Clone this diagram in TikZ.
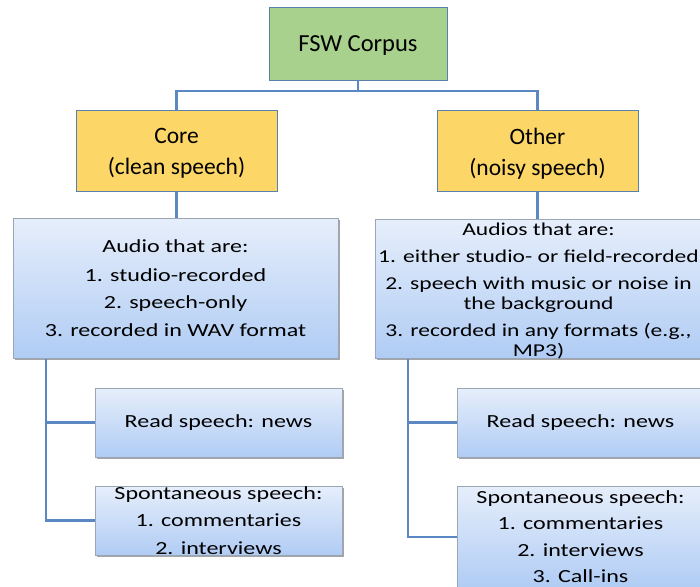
\documentclass[tikz,border=0pt]{standalone}
\usepackage{fontspec}
\setmainfont{Carlito}
\newfontfamily\bluefont{Carlito}[FakeStretch=1.3]
\usetikzlibrary{shadows}
\definecolor{conncol}{HTML}{5B88C2}
\definecolor{topborder}{HTML}{5A80AE}
\definecolor{greenfill}{HTML}{A9D18E}
\definecolor{yellowfill}{HTML}{FDD668}
\definecolor{bluetop}{HTML}{E6EEFB}
\definecolor{bluebot}{HTML}{B0CCF4}
\definecolor{blueborder}{HTML}{9AA6B4}
\newcommand{\lowr}[2]{\raisebox{-#1pt}[\height][\depth]{#2}}
\tikzset{
  topbox/.style={draw=topborder, line width=1pt, inner sep=0pt, align=center},
  bluebox/.style={draw=blueborder, line width=1pt, inner sep=0pt, align=center,
    top color=bluetop, bottom color=bluebot,
    drop shadow={shadow xshift=1.5pt, shadow yshift=-1.5pt, opacity=0.35, fill=black},
    font=\bluefont\fontsize{18.5}{20}\selectfont},
  conn/.style={draw=conncol, line width=2.5pt}
}
\begin{document}
\begin{tikzpicture}[x=1pt,y=-1pt]
\clip (0,0) rectangle (700,586);
\fill[white] (0,0) rectangle (700,586);
% top
\node[topbox, fill=greenfill, minimum width=178pt, minimum height=72pt,
  font=\fontsize{24.5}{28}\selectfont] (fsw) at (358,44) {\lowr{2}{FSW Corpus}};
\node[topbox, fill=yellowfill, minimum width=201pt, minimum height=81pt,
  font=\fontsize{23.5}{31}\selectfont] (core) at (176.5,150.5) {\lowr{3}{Core}\\\lowr{3}{(clean speech)}};
\node[topbox, fill=yellowfill, minimum width=201pt, minimum height=81pt,
  font=\fontsize{23.5}{31}\selectfont] (other) at (537.5,150.5) {\lowr{3}{Other}\\\lowr{3}{(noisy speech)}};
% audio boxes
\node[bluebox, minimum width=325pt, minimum height=140pt] (audL) at (175.5,288)
  {Audio that are:\\[9pt]1. studio-recorded\\[7pt]2. speech-only\\[8pt]3. recorded in WAV format};
\node[bluebox, minimum width=326pt, minimum height=139pt, font=\bluefont\fontsize{18.1}{20}\selectfont] (audR) at (538.5,288.5)
  {\lowr{2.5}{Audios that are:}\\[7pt]\lowr{2.5}{1. either studio- or field-recorded}\\[7pt]\lowr{2.5}{2. speech with music or noise in}\\\lowr{2.5}{the background}\\[7pt]\lowr{2.5}{3. recorded in any formats (e.g.,}\\\lowr{2.5}{MP3)}};
% sub boxes
\node[bluebox, minimum width=247pt, minimum height=69pt] (readL) at (218.5,422.5) {Read speech: news};
\node[bluebox, minimum width=247pt, minimum height=69pt] (spontL) at (218.5,520.5)
  {Spontaneous speech:\\[7pt]1. commentaries\\[8pt]2. interviews};
\node[bluebox, minimum width=247pt, minimum height=69pt] (readR) at (580.5,422.5) {Read speech: news};
\node[bluebox, minimum width=247pt, minimum height=102pt] (spontR) at (580.5,537)
  {Spontaneous speech:\\[6pt]1. commentaries\\[7pt]2. interviews\\[6pt]3. Call-ins};
% connectors
\coordinate (bus) at (0,91);
\coordinate (trunkL) at (46,0);
\coordinate (trunkR) at (408,0);
\draw[conn] (fsw.south) -- (fsw.south |- bus);
\draw[conn] (core.north) -- (core.north |- bus) -- (other.north |- bus) -- (other.north);
\draw[conn] (core.south) -- (core.south |- audL.north);
\draw[conn] (other.south) -- (other.south |- audR.north);
\draw[conn] (audL.south -| trunkL) |- (spontL.west);
\draw[conn] (readL.west) -- (readL.west -| trunkL);
\draw[conn] (audR.south -| trunkR) |- (spontR.west);
\draw[conn] (readR.west) -- (readR.west -| trunkR);
\end{tikzpicture}
\end{document}
